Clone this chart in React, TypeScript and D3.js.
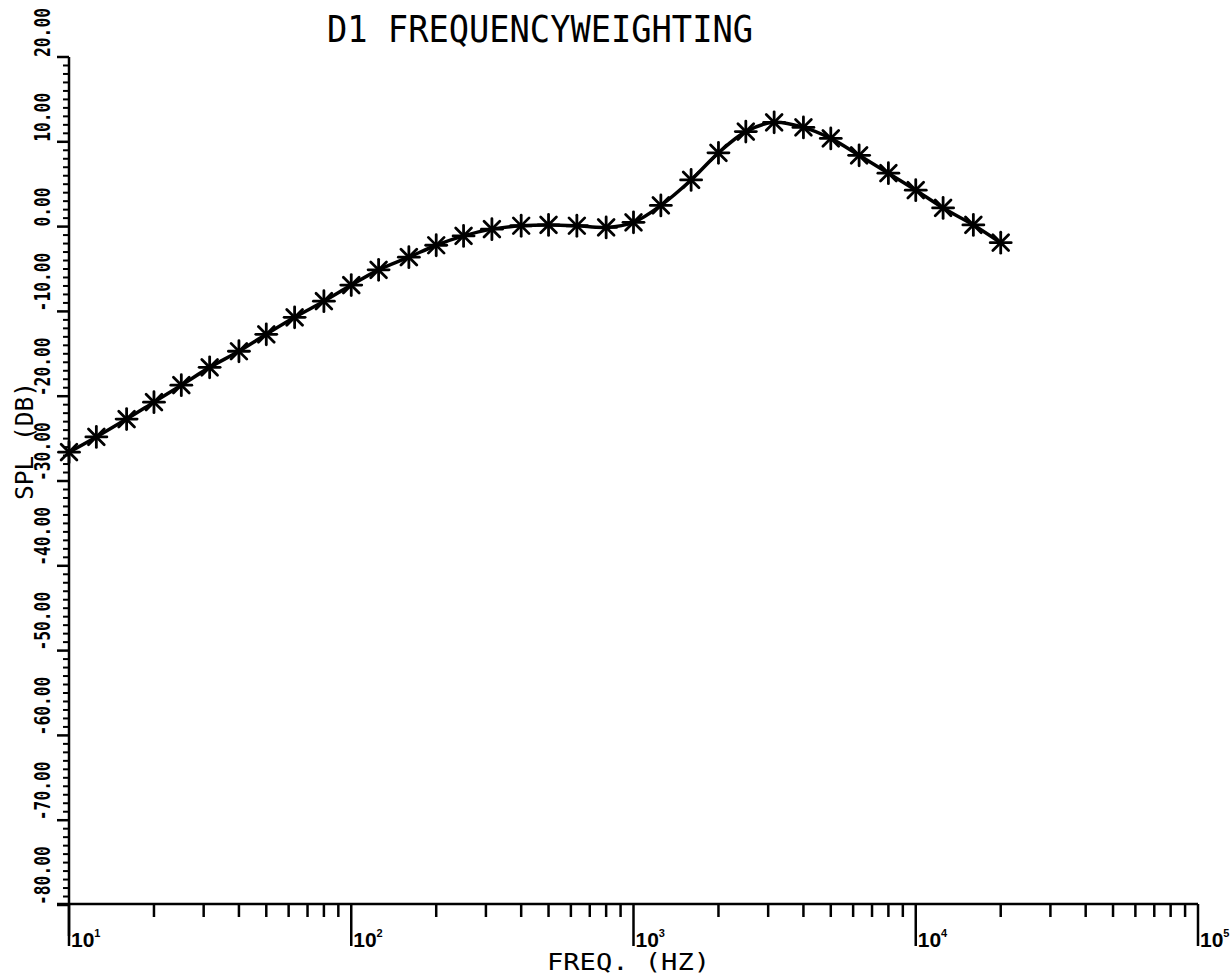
import React from "react";
import * as d3 from "d3";

const freqs = [10, 12.5, 16, 20, 25, 31.5, 40, 50, 63, 80, 100, 125, 160, 200, 250, 315, 400, 500, 630, 800, 1000, 1250, 1600, 2000, 2500, 3150, 4000, 5000, 6300, 8000, 10000, 12500, 16000, 20000];
const spl = [-26.6, -24.8, -22.7, -20.7, -18.7, -16.6, -14.7, -12.7, -10.7, -8.8, -6.9, -5.1, -3.6, -2.2, -1.1, -0.3, 0.1, 0.2, 0.1, -0.1, 0.5, 2.5, 5.5, 8.7, 11.2, 12.3, 11.7, 10.4, 8.4, 6.3, 4.3, 2.2, 0.2, -1.9];
const yTickValues = [20, 10, 0, -10, -20, -30, -40, -50, -60, -70, -80];
const yTickLabels = ["20.00", "10.00", "0.00", "-10.00", "-20.00", "-30.00", "-40.00", "-50.00", "-60.00", "-70.00", "-80.00"];
const xDecades = [1, 2, 3, 4, 5];
const title = "D1 FREQUENCYWEIGHTING";
const xTitle = "FREQ. (HZ)";
const yTitle = "SPL (DB)";

export default function App() {
  const W = 1231, H = 978;
  const x = d3.scaleLog().domain([10, 1e5]).range([69, 1198]);
  const y = d3.scaleLinear().domain([-80, 20]).range([905, 57]);
  const axisY = 904;
  const pts = freqs.map((f, i) => [x(f), y(spl[i])] as [number, number]);
  const line = d3.line().curve(d3.curveCatmullRom.alpha(0.5))(pts) || "";

  const yMinor = d3.range(-80, 21, 1).filter((v) => v % 10 !== 0);
  const xMinor: number[] = [];
  for (let d = 1; d < 5; d++) for (let m = 2; m <= 9; m++) xMinor.push(m * Math.pow(10, d));

  const mono = "'DejaVu Sans Mono', monospace";
  const r = 10.5;

  return (
    <svg width={W} height={H} style={{ position: "absolute", left: 0, top: 0, display: "block", background: "#fff" }}>
      <rect x={0} y={0} width={W} height={H} fill="#fff" />
      {/* title */}
      <text x={327} y={42} fontFamily={mono} fontSize={37} textLength={426} lengthAdjust="spacingAndGlyphs" fill="#000">{title}</text>

      {/* y axis */}
      <line x1={69} y1={y(20)} x2={69} y2={936} stroke="#000" strokeWidth={2.5} />
      {yMinor.map((v) => (
        <line key={"ym" + v} x1={63} x2={69} y1={y(v)} y2={y(v)} stroke="#000" strokeWidth={2} />
      ))}
      {yTickValues.map((v) => (
        <line key={"yM" + v} x1={57} x2={69} y1={y(v)} y2={y(v)} stroke="#000" strokeWidth={2.5} />
      ))}
      {yTickValues.map((v, i) => (
        <text key={"yl" + v} transform={`translate(50,${y(v)}) rotate(-90) scale(0.74,1)`} fontFamily={mono} fontWeight="bold" fontSize={22}
          fill="#000">{yTickLabels[i]}</text>
      ))}
      <text transform={`translate(33,500) rotate(-90)`} fontFamily={mono} fontSize={25} textLength={118} lengthAdjust="spacingAndGlyphs" fill="#000">{yTitle}</text>

      {/* x axis */}
      <line x1={57} x2={1198} y1={axisY} y2={axisY} stroke="#000" strokeWidth={2.5} />
      {xMinor.map((f) => (
        <line key={"xm" + f} x1={x(f)} x2={x(f)} y1={axisY} y2={axisY + 13} stroke="#000" strokeWidth={2.5} />
      ))}
      {xDecades.map((d) => (
        <line key={"xM" + d} x1={x(Math.pow(10, d))} x2={x(Math.pow(10, d))} y1={axisY} y2={946} stroke="#000" strokeWidth={2.5} />
      ))}
      {xDecades.map((d) => (
        <text key={"xl" + d} x={x(Math.pow(10, d)) + 2} y={947} fontFamily="'Liberation Sans', Arial, sans-serif" fontWeight="bold" fontSize={21} fill="#000">
          10<tspan dy={-10} fontSize={11}>{d}</tspan>
        </text>
      ))}
      <text x={547} y={970} fontFamily={mono} fontSize={23} textLength={163} lengthAdjust="spacingAndGlyphs" fill="#000">{xTitle}</text>

      {/* data */}
      <path d={line} fill="none" stroke="#000" strokeWidth={3.5} strokeLinejoin="round" />
      {pts.map(([px, py], i) => (
        <g key={"p" + i} stroke="#000" strokeWidth={2.8} strokeLinecap="round">
          <line x1={px - r} x2={px + r} y1={py} y2={py} />
          <line x1={px} x2={px} y1={py - r} y2={py + r} />
          <line x1={px - r * 0.75} x2={px + r * 0.75} y1={py - r * 0.75} y2={py + r * 0.75} />
          <line x1={px - r * 0.75} x2={px + r * 0.75} y1={py + r * 0.75} y2={py - r * 0.75} />
        </g>
      ))}
    </svg>
  );
}
